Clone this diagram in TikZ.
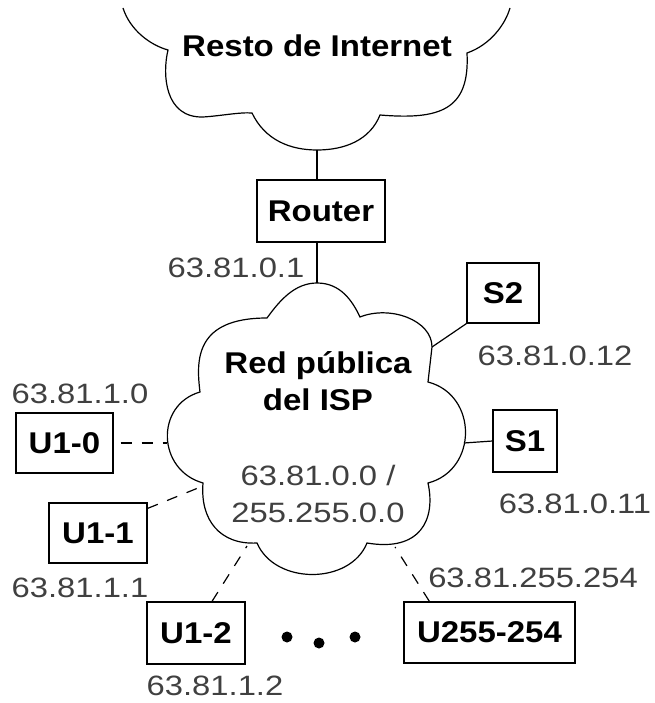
\documentclass[tikz,border=0pt]{standalone}
\usepackage{fontspec}
\setmainfont{Liberation Sans}
\newfontfamily\boxfont[FakeStretch=1.1]{Liberation Sans}
\newfontfamily\ipfont[FakeStretch=1.17]{Liberation Sans}
\usetikzlibrary{calc}
\begin{document}
\begin{tikzpicture}[x=1pt,y=-1pt,
  line width=1.2pt,
  devbox/.style={draw, inner sep=0pt, font=\boxfont\bfseries\fontsize{30}{30}\selectfont},
  cloudtxt/.style={anchor=base, inner sep=0pt, font=\boxfont\bfseries\fontsize{30}{30}\selectfont},
  iplabel/.style={anchor=base, inner sep=0pt, text=black!75, font=\ipfont\fontsize{28}{28}\selectfont},
  dashlink/.style={dash pattern=on 11pt off 10pt},
  dotmark/.style={fill=black, draw=none}]
\useasboundingbox (0,0) rectangle (654,703);

% ---- top cloud (open at top)
\draw (123,8) .. controls (130,30) and (150,45) .. (168,50)
  .. controls (162,75) and (165,118) .. (203,117)
  .. controls (220,116) and (240,112) .. (252,113)
  .. controls (265,140) and (290,150) .. (317,150)
  .. controls (345,150) and (370,140) .. (380,115)
  .. controls (440,120) and (470,110) .. (467,53)
  .. controls (490,45) and (505,25) .. (510,8);
\coordinate (inetB) at (317,150);
\node[cloudtxt] (inet) at (317,57) {Resto de Internet};

% ---- ISP cloud
\draw (317,283) .. controls (340,283) and (352,300) .. (360,317)
  .. controls (390,305) and (432,320) .. (432,347)
  -- (428,382)
  .. controls (478,395) and (478,470) .. (428,483)
  .. controls (436,520) and (420,552) .. (367,543)
  .. controls (350,585) and (275,585) .. (257,543)
  .. controls (220,545) and (200,520) .. (203,483)
  .. controls (157,470) and (155,405) .. (200,392)
  .. controls (196,360) and (195,318) .. (267,318)
  .. controls (280,300) and (295,283) .. (317,283) -- cycle;
\coordinate (ispT) at (317,283);
\coordinate (ispS2) at (432,347);
\coordinate (ispS1) at (464,443);
\coordinate (ispU10) at (167,443);
\coordinate (ispU11) at (203,486);
\coordinate (ispU12) at (247,546);
\coordinate (ispU255) at (395,547);

\node[cloudtxt] (isp1) at (318,373) {Red pública};
\node[cloudtxt] (isp2) at (318,410) {del ISP};
\node[iplabel] (ispnet) at (318,485) {63.81.0.0 /};
\node[iplabel] (ispmask) at (318,522) {255.255.0.0};

% ---- devices
\node[devbox, minimum width=128pt, minimum height=62pt] (router) at (321,211) {Router};
\node[devbox, minimum width=72pt, minimum height=60pt] (s2) at (503,293) {S2};
\node[devbox, minimum width=64pt, minimum height=62pt] (s1) at (525,441) {S1};
\node[devbox, minimum width=97pt, minimum height=60pt] (u10) at (64.5,443) {U1-0};
\node[devbox, minimum width=98pt, minimum height=60pt] (u11) at (98,533) {U1-1};
\node[devbox, minimum width=98pt, minimum height=62pt] (u12) at (196,633) {U1-2};
\node[devbox, minimum width=171pt, minimum height=61pt] (u255) at (489.5,632.5) {U255-254};

% ---- IP labels
\node[iplabel] (ipr) at (236,277) {63.81.0.1};
\node[iplabel] (ips2) at (555,365) {63.81.0.12};
\node[iplabel] (ips1) at (575,513) {63.81.0.11};
\node[iplabel] (ipu10) at (80,403) {63.81.1.0};
\node[iplabel] (ipu11) at (80,597) {63.81.1.1};
\node[iplabel] (ipu12) at (215,695) {63.81.1.2};
\node[iplabel] (ipu255) at (533,587) {63.81.255.254};

% ---- connectors
\draw (inetB) -- (inetB |- router.north);
\draw (ispT |- router.south) -- (ispT);
\draw (ispS2) -- (s2.south west);
\draw (ispS1) -- (s1.west);
\draw[dashlink, dash phase=-7pt] (u10.east) -- (ispU10);
\draw[dashlink] ($(u11.north east)+(0,6)$) -- (ispU11);
\draw[dashlink] ($(u12.north)+(16,0)$) -- (ispU12);
\draw[dashlink] ($(u255.north west)+(26,0)$) -- (ispU255);

% ---- ellipsis dots
\fill[dotmark] (287,637) circle (5.5pt);
\fill[dotmark] (319,643) circle (5.5pt);
\fill[dotmark] (355,637) circle (5.5pt);
\end{tikzpicture}
\end{document}
